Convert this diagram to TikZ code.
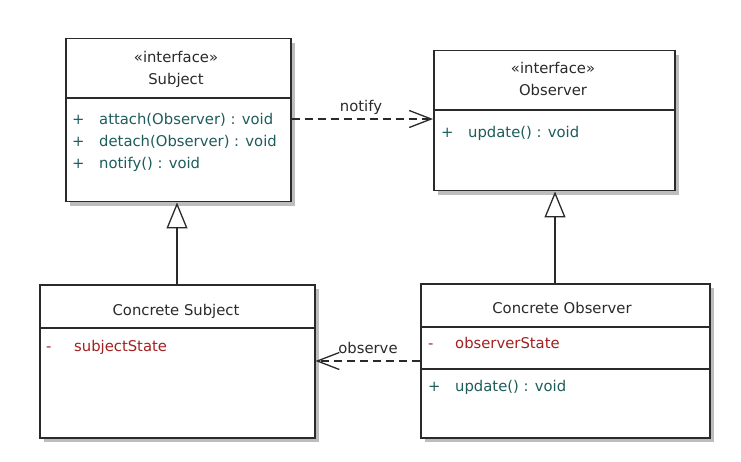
\documentclass[tikz,border=0pt]{standalone}
\usepackage{fontspec}
\setmainfont{DejaVu Sans}
\usetikzlibrary{arrows.meta,shadows}

\definecolor{ink}{HTML}{2A2A2A}
\definecolor{optext}{HTML}{1F5C5C}
\definecolor{attrtext}{HTML}{A32020}
\definecolor{shade}{HTML}{BDBDBD}

\begin{document}
\begin{tikzpicture}[x=1pt,y=-1pt,
  classbox/.style={draw=ink, line width=1.5pt, fill=white, rectangle,
    anchor=north west, inner sep=0pt,
    drop shadow={shadow xshift=4pt, shadow yshift=-4pt, fill=shade, opacity=1}},
  sepline/.style={draw=ink, line width=1.3pt},
  label/.style={font=\fontsize{14.8}{17}\selectfont, inner sep=0pt, text=ink},
  title/.style={label, anchor=base},
  member/.style={label, anchor=base west},
  op/.style={member, text=optext},
  attr/.style={member, text=attrtext},
  dep/.style={draw=ink, line width=1.4pt, dash pattern=on 8pt off 5pt,
    -{Straight Barb[length=22pt, width=17pt, line width=1.3pt]}},
  gen/.style={draw=ink, line width=1.4pt,
    -{Triangle[length=26pt, width=21pt, fill=white, line width=1.3pt]}}
]
\useasboundingbox[fill=white] (0,0) rectangle (741,462);

% class boxes
\node[classbox, minimum width=225pt, minimum height=163pt] (subject) at (65,38) {};
\node[classbox, minimum width=241pt, minimum height=140pt] (observer) at (433,50) {};
\node[classbox, minimum width=275pt, minimum height=153pt] (csubject) at (39,284) {};
\node[classbox, minimum width=289pt, minimum height=154pt] (cobserver) at (420,283) {};

% compartment separators
\draw[sepline] (subject.west |- 0,98) -- (subject.east |- 0,98);
\draw[sepline] (observer.west |- 0,110) -- (observer.east |- 0,110);
\draw[sepline] (csubject.west |- 0,328) -- (csubject.east |- 0,328);
\draw[sepline] (cobserver.west |- 0,327) -- (cobserver.east |- 0,327);
\draw[sepline] (cobserver.west |- 0,369) -- (cobserver.east |- 0,369);

% Subject
\node[title] (subjstereo) at (176,63) {«interface»};
\node[title] (subjname) at (176,85) {Subject};
\node[op] (subjp1) at (72,125) {+};
\node[op] (subjm1) at (99,125) {attach(Observer) : void};
\node[op] (subjp2) at (72,147) {+};
\node[op] (subjm2) at (99,147) {detach(Observer) : void};
\node[op] (subjp3) at (72,169) {+};
\node[op] (subjm3) at (99,169) {notify() : void};

% Observer
\node[title] (obsstereo) at (553,74) {«interface»};
\node[title] (obsname) at (553,96) {Observer};
\node[op] (obsp1) at (441,138) {+};
\node[op] (obsm1) at (468,138) {update() : void};

% Concrete Subject
\node[title] (csname) at (176,315) {Concrete Subject};
\node[attr] (csv1) at (46,351) {-};
\node[attr] (csa1) at (74,351) {subjectState};

% Concrete Observer
\node[title] (coname) at (562,313) {Concrete Observer};
\node[attr] (cov1) at (428,348) {-};
\node[attr] (coa1) at (455,348) {observerState};
\node[op] (cop1) at (428,391) {+};
\node[op] (com1) at (455,391) {update() : void};

% dependencies
\draw[dep] (subject.east |- 0,119) -- (observer.west |- 0,119);
\node[title] (notifylbl) at (361,112) {notify};
\draw[dep] (cobserver.west |- 0,361) -- (csubject.east |- 0,361);
\node[title] (observelbl) at (368,353) {observe};

% generalizations
\draw[gen] (csubject.north -| 177,0) -- (subject.south -| 177,0);
\draw[gen] (cobserver.north -| 555,0) -- (observer.south -| 555,0);
\end{tikzpicture}
\end{document}
